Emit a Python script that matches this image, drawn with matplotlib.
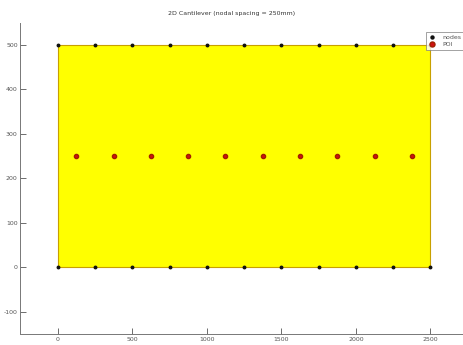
import matplotlib
matplotlib.use("Agg")
import matplotlib.pyplot as plt
from matplotlib.patches import Rectangle

plt.rcParams['axes.unicode_minus'] = False

# Data
beam_length = 2500
beam_height = 500
node_x = [0, 250, 500, 750, 1000, 1250, 1500, 1750, 2000, 2250, 2500]
node_y_bottom = [0] * len(node_x)
node_y_top = [500] * len(node_x)
poi_x = [125, 375, 625, 875, 1125, 1375, 1625, 1875, 2125, 2375]
poi_y = [250] * len(poi_x)
xticks = [0, 500, 1000, 1500, 2000, 2500]
yticks = [-100, 0, 100, 200, 300, 400, 500]
title = "2D Cantilever (nodal spacing = 250mm)"

fig = plt.figure(figsize=(4.64, 3.45), dpi=100)
ax = fig.add_axes([20.5/464, 11/345, 443.5/464, 311.3/345])

ax.add_patch(Rectangle((0, 0), beam_length, beam_height, facecolor="#ffff00",
                       edgecolor="#c8a000", linewidth=0.8, zorder=1))
ax.plot(node_x + node_x, node_y_bottom + node_y_top, 'o', color='#111111',
        markersize=1.8, linestyle='none', label='nodes', zorder=3)
ax.plot(poi_x, poi_y, 'o', color='#d01010', markeredgecolor='#a02000',
        markersize=3.0, linestyle='none', label='POI', zorder=3)

ax.set_xlim(-250, 2725)
ax.set_ylim(-150, 550)
ax.set_xticks(xticks)
ax.set_yticks(yticks)
ax.tick_params(direction='in', length=4, width=0.6, labelsize=4.5,
               labelcolor='#555555', color='#555555', pad=2)
for s in ['top', 'right']:
    ax.spines[s].set_visible(False)
for s in ['left', 'bottom']:
    ax.spines[s].set_color('#777777')
    ax.spines[s].set_linewidth(0.7)

fig.text(0.5, 1 - 14/345, title, ha='center', va='center', fontsize=4.5, color='#333333')

leg = fig.legend(loc='upper left', bbox_to_anchor=(423/464, 1 - 29/345),
                 fontsize=4.5, frameon=True, fancybox=False, edgecolor='#777777',
                 handlelength=1.2, handletextpad=1.0, borderpad=0.4,
                 labelspacing=0.3, markerscale=1.2)
leg.get_frame().set_linewidth(0.6)
for t in leg.get_texts():
    t.set_color('#555555')

fig.savefig("out.png", dpi=100)
